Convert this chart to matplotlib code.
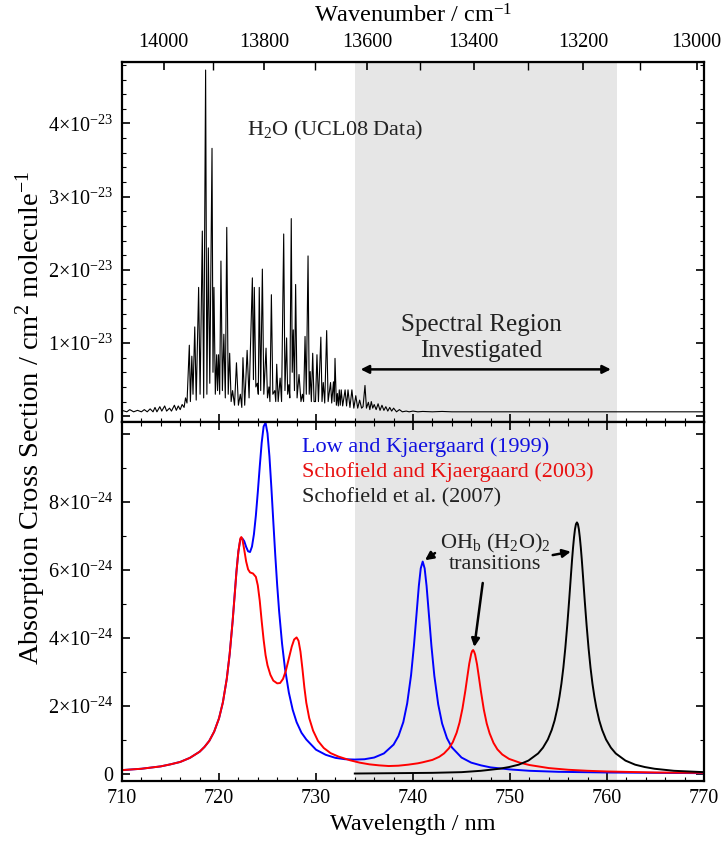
import matplotlib
matplotlib.use("Agg")
import matplotlib.pyplot as plt
from matplotlib.ticker import MultipleLocator, FixedLocator, FixedFormatter

plt.rcParams["font.family"] = ["Liberation Serif", "DejaVu Serif"]
plt.rcParams["mathtext.fontset"] = "custom"
plt.rcParams["mathtext.rm"] = "Liberation Serif"
plt.rcParams["mathtext.it"] = "Liberation Serif:italic"
plt.rcParams["mathtext.default"] = "regular"

# ---- top panel: H2O line spectrum (UCL08), cross section in 1e-23 units ----
h2o_wl = [710.0, 710.5, 710.8, 711.2, 711.6, 712.0, 712.3, 712.6, 712.9, 713.2,
          713.4, 713.6, 713.9, 714.1, 714.4, 714.6, 714.9, 715.1, 715.4, 715.6,
          715.8, 716.0, 716.2, 716.4, 716.55, 716.7,
          716.94, 717.05, 717.2, 717.32, 717.5, 717.65, 717.9, 718.05, 718.28, 718.42,
          718.62, 718.75, 718.9, 719.05, 719.28, 719.38, 719.48, 719.62, 719.76, 719.85,
          719.95, 720.07, 720.2, 720.35, 720.5, 720.65, 720.8, 720.95, 721.1, 721.25,
          721.4, 721.6, 721.8, 722.0, 722.2, 722.35, 722.47, 722.65, 722.9, 723.1,
          723.44, 723.55, 723.64, 723.8, 723.95, 724.05, 724.15, 724.3, 724.47, 724.62,
          724.85, 725.0, 725.15, 725.25, 725.4, 725.55, 725.75, 725.85, 725.95, 726.1,
          726.3, 726.45, 726.67, 726.8, 726.97, 727.08, 727.2, 727.3, 727.45, 727.55,
          727.66, 727.78, 727.9, 728.05, 728.25, 728.45, 728.6, 728.72, 728.87, 729.0,
          729.18, 729.3, 729.4, 729.52, 729.66, 729.8, 729.95, 730.1, 730.25, 730.5,
          730.62, 730.75, 730.9, 731.1, 731.25, 731.5, 731.62, 731.8, 731.88, 731.96,
          732.1, 732.2, 732.3, 732.4, 732.5, 732.6, 732.75, 733.0, 733.15, 733.3,
          733.5, 733.7, 733.9, 734.1, 734.3, 734.5, 734.7, 734.85, 735.05, 735.2,
          735.4, 735.55, 735.7, 735.85, 736.0, 736.2, 736.4, 736.6, 736.8, 737.0,
          737.2, 737.4, 737.6, 737.8, 738.0, 738.3, 738.6, 738.9, 739.3, 739.6,
          740.0, 740.5, 741.0, 742.0, 743.0, 744.0, 770.0]
h2o_xs = [0.08, 0.06, 0.09, 0.06, 0.08, 0.06, 0.09, 0.06, 0.10, 0.06,
          0.12, 0.06, 0.13, 0.07, 0.14, 0.07, 0.11, 0.07, 0.15, 0.08,
          0.14, 0.09, 0.16, 0.12, 0.25, 0.18,
          0.97, 0.20, 0.82, 0.30, 1.22, 0.22, 1.76, 0.30, 2.53, 0.25,
          4.73, 0.30, 2.30, 0.45, 3.66, 0.60, 1.76, 0.30, 0.84, 0.35,
          0.84, 0.30, 2.12, 0.35, 1.12, 0.25, 2.58, 0.30, 0.86, 0.20,
          0.35, 0.15, 0.73, 0.15, 0.30, 0.12, 0.80, 0.15, 0.90, 0.25,
          1.89, 0.50, 1.76, 0.40, 0.45, 0.30, 1.76, 0.35, 2.01, 0.30,
          0.93, 0.25, 0.40, 0.20, 1.66, 0.30, 0.35, 0.20, 0.71, 0.20,
          0.52, 0.20, 2.49, 0.35, 1.07, 0.30, 0.43, 0.25, 2.70, 0.60,
          1.18, 0.35, 1.80, 0.25, 0.57, 0.20, 0.30, 0.20, 1.09, 0.30,
          2.19, 0.30, 0.61, 0.20, 0.86, 0.20, 0.20, 0.84, 0.20, 1.08,
          0.20, 0.46, 0.18, 1.17, 0.20, 0.46, 0.18, 0.47, 0.20, 0.79,
          0.15, 0.31, 0.14, 0.36, 0.15, 0.36, 0.14, 0.36, 0.14, 0.36,
          0.12, 0.36, 0.11, 0.28, 0.11, 0.22, 0.11, 0.13, 0.42, 0.11,
          0.19, 0.09, 0.20, 0.11, 0.16, 0.09, 0.17, 0.08, 0.15, 0.08,
          0.13, 0.07, 0.12, 0.07, 0.11, 0.06, 0.09, 0.06, 0.07, 0.06,
          0.07, 0.06, 0.065, 0.06, 0.065, 0.06, 0.06]

# ---- bottom panel: (H2O)2 calculated spectra, cross section in 1e-24 units ----
low_wl = [710, 712, 714, 715, 716, 717, 718, 718.5, 719, 719.5,
          720, 720.4, 720.8, 721.1, 721.4, 721.6, 721.8, 722.0, 722.2, 722.4,
          722.6, 722.8, 723.0, 723.2, 723.4, 723.6, 723.8, 724.0, 724.2, 724.4,
          724.6, 724.8, 725.0, 725.2, 725.4, 725.6, 725.8, 726.0, 726.2, 726.5,
          726.8, 727.2, 727.6, 728.0, 728.5, 729, 730, 731, 732, 733,
          734, 735, 736, 737, 738, 738.5, 739, 739.4, 739.8, 740.1,
          740.4, 740.6, 740.8, 741.0, 741.2, 741.4, 741.6, 741.9, 742.2, 742.6,
          743.0, 743.5, 744, 745, 746, 747, 748, 750, 752, 755,
          760, 765, 770]
low_xs = [0.12, 0.16, 0.23, 0.29, 0.36, 0.48, 0.66, 0.80, 0.98, 1.25,
          1.64, 2.11, 2.80, 3.53, 4.48, 5.22, 5.96, 6.55, 6.90, 6.93,
          6.85, 6.68, 6.55, 6.53, 6.69, 7.05, 7.60, 8.29, 9.04, 9.74,
          10.22, 10.33, 10.02, 9.34, 8.42, 7.42, 6.44, 5.55, 4.78, 3.84,
          3.11, 2.40, 1.89, 1.53, 1.22, 1.02, 0.72, 0.57, 0.48, 0.44,
          0.43, 0.44, 0.49, 0.61, 0.87, 1.12, 1.53, 2.08, 2.91, 3.79,
          4.83, 5.53, 6.05, 6.25, 6.05, 5.53, 4.83, 3.77, 2.89, 2.05,
          1.49, 1.06, 0.79, 0.49, 0.34, 0.26, 0.20, 0.14, 0.10, 0.07,
          0.05, 0.04, 0.03]

sch03_wl = [710, 712, 714, 715, 716, 717, 718, 718.5, 719, 719.5,
            720, 720.4, 720.8, 721.1, 721.4, 721.6, 721.8, 722.0, 722.2, 722.3,
            722.4, 722.6, 722.8, 723.0, 723.2, 723.5, 723.8, 724.0, 724.2, 724.4,
            724.6, 724.8, 725.0, 725.3, 725.6, 726.0, 726.3, 726.6, 726.9, 727.2,
            727.5, 727.75, 728.0, 728.2, 728.4, 728.6, 728.8, 729.0, 729.3, 729.7,
            730.2, 730.8, 731.5, 732.3, 733.5, 734.5, 735.5, 736.5, 737.5, 738.5,
            739.5, 740.5, 741, 742, 742.7, 743.2, 743.7, 744.1, 744.5, 744.8,
            745.1, 745.4, 745.6, 745.8, 746.0, 746.1, 746.2, 746.3, 746.4, 746.6,
            746.8, 747.0, 747.3, 747.6, 747.9, 748.3, 748.7, 749.2, 749.9, 751,
            752, 754, 756, 758, 760, 765, 770]
sch03_xs = [0.12, 0.16, 0.23, 0.29, 0.36, 0.48, 0.66, 0.80, 0.98, 1.25,
            1.64, 2.11, 2.80, 3.53, 4.48, 5.2, 5.95, 6.55, 6.93, 6.97,
            6.92, 6.6, 6.25, 6.02, 5.93, 5.9, 5.8, 5.55, 5.1, 4.5,
            3.95, 3.5, 3.2, 2.92, 2.75, 2.67, 2.68, 2.8, 3.05, 3.4,
            3.75, 3.96, 4.02, 3.92, 3.6, 3.1, 2.55, 2.1, 1.65, 1.28,
            0.98, 0.77, 0.62, 0.52, 0.41, 0.34, 0.29, 0.26, 0.24, 0.25,
            0.28, 0.32, 0.35, 0.42, 0.51, 0.61, 0.76, 0.94, 1.22, 1.52,
            1.93, 2.46, 2.86, 3.25, 3.54, 3.62, 3.65, 3.60, 3.52, 3.23,
            2.84, 2.44, 1.90, 1.49, 1.20, 0.92, 0.73, 0.58, 0.45, 0.34,
            0.27, 0.18, 0.13, 0.10, 0.08, 0.05, 0.04]

sch07_wl = [734, 738, 742, 745, 747, 748.9, 749.9, 750.9, 751.9, 752.9,
            753.4, 753.9, 754.3, 754.6, 754.9, 755.1, 755.3, 755.5, 755.7, 755.9,
            756.0, 756.1, 756.2, 756.3, 756.4, 756.5, 756.6, 756.7, 756.8, 756.9,
            757.0, 757.1, 757.2, 757.3, 757.4, 757.5, 757.6, 757.7, 757.8, 757.9,
            758.1, 758.3, 758.5, 758.7, 758.9, 759.2, 759.5, 759.9, 760.4, 760.9,
            761.9, 762.9, 763.9, 764.9, 766.9, 770]
sch07_xs = [0.02, 0.03, 0.04, 0.06, 0.10, 0.16, 0.21, 0.28, 0.40, 0.61,
            0.78, 1.02, 1.30, 1.58, 1.96, 2.28, 2.66, 3.13, 3.70, 4.37,
            4.74, 5.12, 5.52, 5.92, 6.31, 6.66, 6.96, 7.20, 7.35, 7.40,
            7.35, 7.20, 6.96, 6.66, 6.31, 5.92, 5.52, 5.12, 4.74, 4.37,
            3.70, 3.13, 2.66, 2.28, 1.96, 1.58, 1.30, 1.02, 0.78, 0.61,
            0.40, 0.28, 0.21, 0.16, 0.10, 0.06]

region_nm = (734, 761)
wn_ticks = [14000, 13800, 13600, 13400, 13200, 13000]
top_yticks = [0, 1, 2, 3, 4]
top_ylabels = ["0", r"1×10$^{-23}$", r"2×10$^{-23}$", r"3×10$^{-23}$", r"4×10$^{-23}$"]
bot_yticks = [0, 2, 4, 6, 8, 10]
bot_ylabels = ["0", r"2×10$^{-24}$", r"4×10$^{-24}$", r"6×10$^{-24}$", r"8×10$^{-24}$", ""]

fig = plt.figure(figsize=(7.23, 8.44), dpi=100)
ax1 = fig.add_axes([0.16874, 0.50036, 0.80498, 0.42619])
ax2 = fig.add_axes([0.16874, 0.07464, 0.80498, 0.42571])

gray = "#e6e6e6"
for ax in (ax1, ax2):
    ax.axvspan(region_nm[0], region_nm[1], color=gray, lw=0, zorder=0)
    ax.set_xlim(710, 770)
    ax.xaxis.set_major_locator(MultipleLocator(10))
    ax.xaxis.set_minor_locator(MultipleLocator(2))
    for s in ax.spines.values():
        s.set_linewidth(1.6)
    ax.tick_params(which="both", direction="in", right=True, labelsize=14.5, width=1.2, pad=6)
    ax.tick_params(which="major", length=6)
    ax.tick_params(which="minor", length=3, width=0.8)

# top panel
ax1.plot(h2o_wl, h2o_xs, color="black", lw=0.8)
ax1.set_ylim(-0.075, 4.84)
ax1.yaxis.set_major_locator(FixedLocator(top_yticks))
ax1.yaxis.set_major_formatter(FixedFormatter(top_ylabels))
ax1.yaxis.set_minor_locator(MultipleLocator(0.2))
ax1.tick_params(axis="x", which="both", top=False, bottom=True, labelbottom=False)

sec = ax1.secondary_xaxis("top", functions=(lambda x: 1e7 / x, lambda x: 1e7 / x))
sec.set_xticks(wn_ticks)
sec.set_xticklabels([str(t) for t in wn_ticks])
sec.xaxis.set_minor_locator(MultipleLocator(100))
sec.tick_params(which="both", direction="in", labelsize=14.5, width=1.2, pad=7)
sec.tick_params(which="major", length=6)
sec.tick_params(which="minor", length=6, width=1.0)
sec.set_xlabel(r"Wavenumber / cm$^{-1}$", fontsize=17.5, labelpad=8)

ax1.text(732.0, 3.91, r"H$_2$O (UCL08 Data)", fontsize=16, ha="center", va="center", color="#222222")
ax1.text(747.0, 1.07, "Spectral Region\nInvestigated", fontsize=18, ha="center", va="center",
         linespacing=1.2, color="#222222")
ax1.annotate("", xy=(734.6, 0.64), xytext=(760.4, 0.64),
             arrowprops=dict(arrowstyle="<|-|>", color="black", lw=1.8, mutation_scale=12,
                             shrinkA=0, shrinkB=0))

# bottom panel
ax2.plot(low_wl, low_xs, color="#0000ff", lw=1.4)
ax2.plot(sch03_wl, sch03_xs, color="#ff0000", lw=1.4)
ax2.plot(sch07_wl, sch07_xs, color="black", lw=1.4)
ax2.set_ylim(-0.2, 10.36)
ax2.yaxis.set_major_locator(FixedLocator(bot_yticks))
ax2.yaxis.set_major_formatter(FixedFormatter(bot_ylabels))
ax2.yaxis.set_minor_locator(MultipleLocator(1))
ax2.tick_params(axis="x", which="both", top=True)
ax2.set_xlabel("Wavelength / nm", fontsize=17.5, labelpad=4)

ax2.text(728.56, 9.62, "Low and Kjaergaard (1999)", color="#1010e0", fontsize=16, va="center")
ax2.text(728.56, 8.88, "Schofield and Kjaergaard (2003)", color="#e81010", fontsize=16, va="center")
ax2.text(728.56, 8.12, "Schofield et al. (2007)", color="#222222", fontsize=16, va="center")
ax2.text(748.45, 6.79, r"OH$_b$ (H$_2$O)$_2$", fontsize=16, ha="center", va="center", color="#222222")
ax2.text(748.45, 6.15, "transitions", fontsize=16, ha="center", va="center", color="#222222")

arrow = dict(arrowstyle="-|>", color="black", lw=1.8, mutation_scale=12, shrinkA=0, shrinkB=0)
ax2.annotate("", xy=(746.32, 3.74), xytext=(747.19, 5.62), arrowprops=arrow)
ax2.annotate("", xy=(741.24, 6.29), xytext=(742.27, 6.5), arrowprops=arrow)
ax2.annotate("", xy=(756.27, 6.54), xytext=(754.4, 6.44), arrowprops=arrow)

fig.text(0.042, 0.505, r"Absorption Cross Section / cm$^{2}$ molecule$^{-1}$", rotation=90,
         fontsize=20.5, ha="center", va="center")

fig.savefig("out.png", dpi=100)
